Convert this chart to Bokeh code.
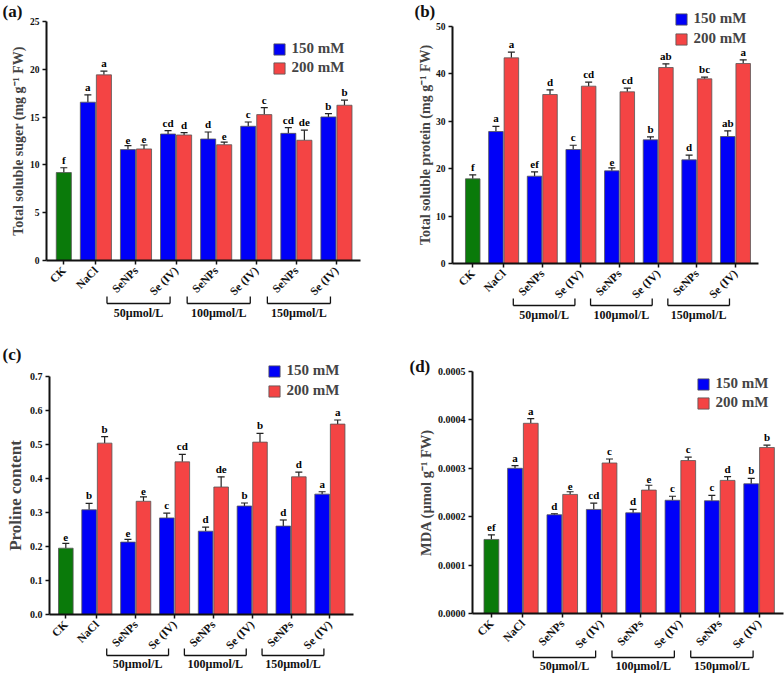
import math
from bokeh.plotting import figure
from bokeh.layouts import gridplot
from bokeh.models import (ColumnDataSource, FixedTicker, PrintfTickFormatter, Whisker,
                          TeeHead, LabelSet, Label, Legend)
from bokeh.core.properties import value
from bokeh.embed import file_html
from bokeh.resources import INLINE

# ---------------- data ----------------
treatments = ["CK", "NaCl", "SeNPs", "Se (IV)", "SeNPs", "Se (IV)", "SeNPs", "Se (IV)"]
se_doses = ["50µmol/L", "100µmol/L", "150µmol/L"]
series_names = ["150 mM", "200 mM"]

# (a) total soluble sugar
sugar_ck = 9.2
sugar_ck_err = 0.5
sugar_ck_letter = "f"
sugar_150 = [16.56, 11.60, 13.23, 12.71, 14.04, 13.30, 15.02]
sugar_150_err = [0.77, 0.42, 0.35, 0.73, 0.45, 0.60, 0.35]
sugar_150_letters = ["a", "e", "cd", "d", "c", "cd", "b"]
sugar_200 = [19.42, 11.67, 13.13, 12.11, 15.26, 12.58, 16.24]
sugar_200_err = [0.38, 0.41, 0.24, 0.28, 0.73, 1.05, 0.53]
sugar_200_letters = ["a", "e", "d", "e", "c", "de", "b"]

# (b) total soluble protein
protein_ck = 17.86
protein_ck_err = 0.84
protein_ck_letter = "f"
protein_150 = [27.85, 18.42, 24.05, 19.55, 26.09, 21.87, 26.79]
protein_150_err = [1.1, 0.9, 0.9, 0.63, 0.63, 1.0, 1.2]
protein_150_letters = ["a", "ef", "c", "e", "b", "d", "ab"]
protein_200 = [43.39, 35.65, 37.41, 36.22, 41.35, 38.96, 42.19]
protein_200_err = [1.2, 1.0, 0.85, 0.77, 0.77, 0.35, 0.78]
protein_200_letters = ["a", "d", "cd", "cd", "ab", "bc", "a"]

# (c) proline content
proline_ck = 0.195
proline_ck_err = 0.014
proline_ck_letter = "e"
proline_150 = [0.308, 0.213, 0.284, 0.245, 0.319, 0.260, 0.354]
proline_150_err = [0.019, 0.008, 0.014, 0.012, 0.009, 0.018, 0.007]
proline_150_letters = ["b", "e", "c", "d", "b", "d", "a"]
proline_200 = [0.504, 0.333, 0.449, 0.375, 0.507, 0.405, 0.560]
proline_200_err = [0.019, 0.013, 0.022, 0.030, 0.026, 0.014, 0.012]
proline_200_letters = ["b", "e", "cd", "de", "b", "d", "a"]

# (d) MDA
mda_ck = 0.000153
mda_ck_err = 0.0000096
mda_ck_letter = "ef"
mda_150 = [0.000300, 0.000204, 0.000215, 0.000208, 0.000234, 0.000233, 0.000268]
mda_150_err = [0.0000055, 0.000002, 0.000013, 0.000007, 0.0000083, 0.000011, 0.000011]
mda_150_letters = ["a", "d", "cd", "d", "c", "c", "b"]
mda_200 = [0.000393, 0.000246, 0.000311, 0.000255, 0.000316, 0.000275, 0.000343]
mda_200_err = [0.0000096, 0.0000055, 0.0000082, 0.00001, 0.0000069, 0.0000076, 0.0000048]
mda_200_letters = ["a", "e", "c", "e", "c", "d", "b"]

# ---------------- style ----------------
FONT = "Liberation Serif"
BLUE = "#0000F8"
RED = "#F44444"
GREEN = "#0A7A0A"
EDGE = "#555555"
INK = "#111111"
BAR_W = 0.94

# group centres along the x axis (layout, not data)
centers = []
pos = 0.0
for i in range(len(treatments)):
    centers.append(pos)
    pos += 2.0 if i == 0 else 2.5


def make_panel(spec, ck, ck_err, ck_letter, v150, e150, l150, v200, e200, l200):
    W, H = spec["size"]
    ax_x, rt_x, y0_px, top_px = spec["frame_px"]      # local pixel geometry of the axes
    x0d, x1d = spec["xdata"]
    ymax = spec["ymax"]
    pxu = (rt_x - ax_x) / (x1d - x0d)
    pyu = (y0_px - top_px) / ymax
    xr = (x0d - ax_x / pxu, x1d + (W - rt_x) / pxu)
    yr = (-(H - y0_px) / pyu, ymax + top_px / pyu)

    def dx(px):  # local px from figure left -> data x
        return xr[0] + px / pxu

    def dy(py):  # local px from figure top -> data y
        return yr[1] - py / pyu

    p = figure(width=W, height=H, x_range=xr, y_range=yr, output_backend="svg",
               toolbar_location=None, min_border=0, min_border_left=0, min_border_right=0,
               min_border_top=0, min_border_bottom=0)
    p.outline_line_color = None
    p.xgrid.grid_line_color = None
    p.ygrid.grid_line_color = None
    p.background_fill_color = "white"
    p.border_fill_color = "white"

    # bars
    blue_x = [c - 0.5 for c in centers[1:]]
    red_x = [c + 0.5 for c in centers[1:]]
    p.vbar(x=[centers[0]], top=[ck], bottom=0, width=BAR_W, fill_color=GREEN, line_color=EDGE, line_width=0.8)
    rb = p.vbar(x=blue_x, top=v150, bottom=0, width=BAR_W, fill_color=BLUE, line_color=EDGE, line_width=0.8)
    rr = p.vbar(x=red_x, top=v200, bottom=0, width=BAR_W, fill_color=RED, line_color=EDGE, line_width=0.8)

    # error bars + letters
    xs = [centers[0]] + blue_x + red_x
    tops = [ck] + list(v150) + list(v200)
    errs = [ck_err] + list(e150) + list(e200)
    labs = [ck_letter] + list(l150) + list(l200)
    src = ColumnDataSource(dict(x=xs, lo=tops, hi=[a + e for a, e in zip(tops, errs)], lab=labs))
    p.add_layout(Whisker(base="x", lower="lo", upper="hi", source=src, dimension="height",
                         line_color="#222222", line_width=1.2, lower_head=None,
                         upper_head=TeeHead(size=7, line_color="#222222", line_width=1.2)))
    p.add_layout(LabelSet(x="x", y="hi", text="lab", source=src, y_offset=2,
                          text_align="center", text_baseline="bottom",
                          text_font=value(FONT), text_font_style="bold",
                          text_font_size="11px", text_color="black"))

    # axes, fixed inside the frame
    n = int(round(ymax / spec["ystep"]))
    p.yaxis.fixed_location = x0d
    p.yaxis.bounds = (0, ymax)
    p.yaxis.ticker = FixedTicker(ticks=[i * spec["ystep"] for i in range(n + 1)])
    p.yaxis.formatter = PrintfTickFormatter(format=spec["yfmt"])
    p.yaxis.axis_label = spec["ylabel"]
    p.yaxis.axis_label_text_font = FONT
    p.yaxis.axis_label_text_font_style = "bold"
    p.yaxis.axis_label_text_font_size = spec["ylabel_size"]
    p.yaxis.axis_label_standoff = spec["ylabel_standoff"]
    p.yaxis.major_label_text_font = FONT
    p.yaxis.major_label_text_font_style = "bold"
    p.yaxis.major_label_text_font_size = spec["ytick_size"]
    p.yaxis.major_label_standoff = 3

    p.xaxis.fixed_location = 0
    p.xaxis.bounds = (x0d, x1d)
    p.xaxis.ticker = FixedTicker(ticks=centers)
    p.xaxis.major_label_overrides = {float(c): t for c, t in zip(centers, treatments)}
    p.xaxis.major_label_orientation = math.pi / 4
    p.xaxis.major_label_text_font = FONT
    p.xaxis.major_label_text_font_style = "bold"
    p.xaxis.major_label_text_font_size = "11.5px"
    p.xaxis.major_label_standoff = 4

    for ax in (p.xaxis, p.yaxis):
        ax.axis_line_width = 2
        ax.axis_line_color = INK
        ax.major_tick_line_width = 1.5
        ax.major_tick_line_color = INK
        ax.major_tick_out = 4
        ax.major_tick_in = 0
        ax.minor_tick_line_color = None
        ax.major_label_text_color = INK

    # brackets and Se dose labels under the axis
    line_off, tick_off, text_off = spec["bracket"]
    x0s, y0s, x1s, y1s, gx = [], [], [], [], []
    yl = dy(y0_px + line_off)
    yt = dy(y0_px + tick_off)
    for k in range(len(se_doses)):
        c1, c2 = centers[2 + 2 * k], centers[3 + 2 * k]
        left = c1 - 29 / pxu
        right = c2 - 6 / pxu
        x0s += [left, left, right]
        y0s += [yt, yl, yl]
        x1s += [left, right, right]
        y1s += [yl, yl, yt]
        gx.append((left + right) / 2)
    p.segment(x0=x0s, y0=y0s, x1=x1s, y1=y1s, line_color=INK, line_width=1.3)
    p.text(x=gx, y=[dy(y0_px + text_off)] * len(gx), text=se_doses, text_align="center",
           text_baseline="middle", text_font=value(FONT), text_font_style="bold",
           text_font_size="12px", text_color=INK)

    # legend
    lx, ly = spec["legend"]
    legend = Legend(items=[(series_names[0], [rb]), (series_names[1], [rr])],
                    location=(lx, ly), orientation="vertical", padding=0, margin=0,
                    spacing=spec["legend_spacing"], glyph_width=14, glyph_height=14,
                    label_height=16, label_standoff=6, label_text_font=FONT,
                    label_text_font_style="bold", label_text_font_size="15px",
                    border_line_color=None, background_fill_alpha=0)
    p.add_layout(legend)

    # panel label
    plx, ply = spec["plabel"]
    p.add_layout(Label(x=dx(plx), y=dy(ply), text=spec["tag"], text_font=FONT,
                       text_font_style="bold", text_font_size="17px", text_align="left",
                       text_baseline="top", text_color=INK))
    return p


spec_a = dict(tag="(a)", size=(392, 330), frame_px=(46, 360, 260, 21), xdata=(-1.08, 18.5),
              ymax=25, ystep=5, yfmt="%d", ylabel="Total soluble suger (mg g⁻¹ FW)",
              ylabel_size="14px", ylabel_standoff=1, ytick_size="9.5px",
              legend=(271.6, 254.0), legend_spacing=2, plabel=(2, 1), bracket=(43, 36, 52))
spec_b = dict(tag="(b)", size=(392, 330), frame_px=(60, 366, 263, 26), xdata=(-1.31, 18.49),
              ymax=50, ystep=10, yfmt="%d", ylabel="Total soluble protein (mg g⁻¹ FW)",
              ylabel_size="14px", ylabel_standoff=0, ytick_size="9.5px",
              legend=(281.6, 282.9), legend_spacing=3, plabel=(22, 1), bracket=(42, 35, 51))
spec_c = dict(tag="(c)", size=(392, 343), frame_px=(49, 352.7, 284, 46), xdata=(-1.05, 18.5),
              ymax=0.7, ystep=0.1, yfmt="%.1f", ylabel="Proline content",
              ylabel_size="17px", ylabel_standoff=2, ytick_size="10px",
              legend=(266.6, 273.9), legend_spacing=3, plabel=(2, 14), bracket=(41, 34, 49))
spec_d = dict(tag="(d)", size=(392, 343), frame_px=(80, 391, 283, 41), xdata=(-1.2, 18.55),
              ymax=0.0005, ystep=0.0001, yfmt="%.4f", ylabel="MDA (µmol g⁻¹ FW)",
              ylabel_size="14.5px", ylabel_standoff=1, ytick_size="10px",
              legend=(303.6, 261.9), legend_spacing=2, plabel=(17, 26), bracket=(44, 37, 52))

pa = make_panel(spec_a, sugar_ck, sugar_ck_err, sugar_ck_letter, sugar_150, sugar_150_err,
                sugar_150_letters, sugar_200, sugar_200_err, sugar_200_letters)
pb = make_panel(spec_b, protein_ck, protein_ck_err, protein_ck_letter, protein_150, protein_150_err,
                protein_150_letters, protein_200, protein_200_err, protein_200_letters)
pc = make_panel(spec_c, proline_ck, proline_ck_err, proline_ck_letter, proline_150, proline_150_err,
                proline_150_letters, proline_200, proline_200_err, proline_200_letters)
pd_ = make_panel(spec_d, mda_ck, mda_ck_err, mda_ck_letter, mda_150, mda_150_err,
                 mda_150_letters, mda_200, mda_200_err, mda_200_letters)

grid = gridplot([[pa, pb], [pc, pd_]], toolbar_location=None)

with open("out.html", "w") as f:
    f.write(file_html(grid, INLINE))
